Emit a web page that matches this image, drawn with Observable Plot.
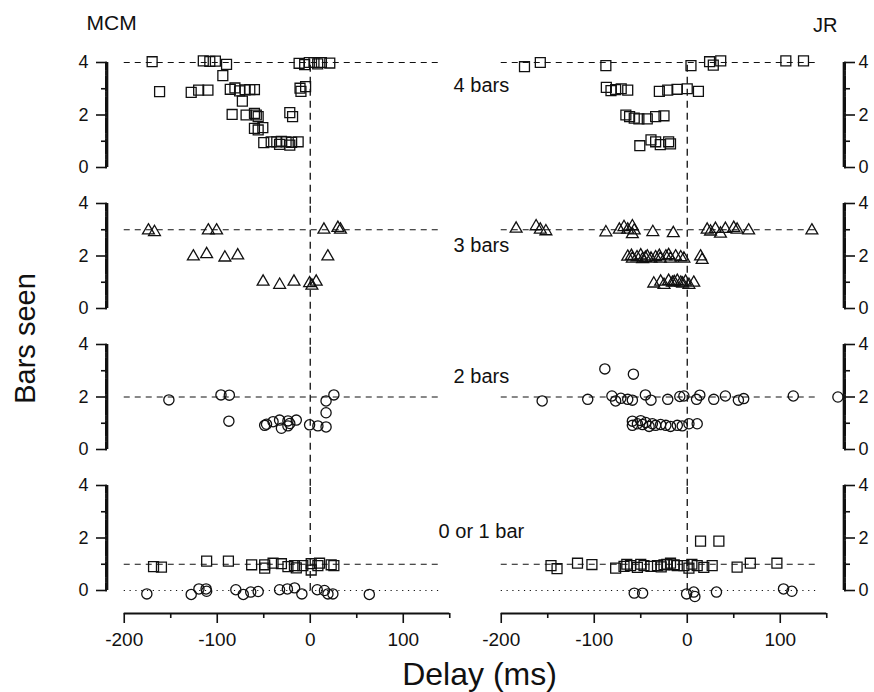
<!DOCTYPE html>
<html><head><meta charset="utf-8">
<script src="https://cdn.jsdelivr.net/npm/d3@7"></script>
<script src="https://cdn.jsdelivr.net/npm/@observablehq/plot@0.6"></script>
<style>body{margin:0;background:#fff;} #chart svg{display:block;}</style>
</head><body><div id="chart"></div>
<script>
const subjects = ["MCM", "JR"];
const conditions = ["4 bars", "3 bars", "2 bars", "0 or 1 bar"];
const refLevels = [4, 3, 2, 1];
const xDomain = [-218, 168];
const yDomain = [0, 4];
const xTicksMajor = [-200, -100, 0, 100];
const xTicksMinor = [-150, -50, 50, 150];
const yTicksMajor = [0, 2, 4];
const yTicksMinor = [1, 3];

// [delay (ms), bars seen]
const mcm4 = [[-170,4.03],[-115,4.06],[-108,4.04],[-102,4.05],[-90,3.93],[-94,3.5],
  [-12,3.97],[-6,3.92],[-1,4.0],[4,4.0],[8,3.95],[12,4.0],[21,3.98],
  [-162,2.89],[-128,2.86],[-120,2.95],[-110,2.95],[-86,2.98],[-81,3.03],[-76,2.92],[-70,2.96],[-65,2.97],[-60,2.97],[-73,2.53],[-11,3.02],[-10,2.9],[-5,3.08],
  [-84,2.02],[-69,2.0],[-60,2.06],[-58,2.0],[-56,1.94],[-22,2.09],[-19,1.94],
  [-60,1.49],[-56,1.43],[-51,1.52],
  [-50,0.95],[-42,0.98],[-36,0.98],[-31,1.0],[-26,0.98],[-20,0.96],[-13,0.98],[-33,0.88],[-22,0.85]];
const jr4 = [[-175,3.84],[-158,4.0],[-87.5,3.88],[4,3.88],[24,4.03],[28,3.9],[36,4.06],[106,4.06],[125,4.06],
  [-87,3.05],[-82,2.93],[-77,2.97],[-71,3.0],[-64,2.95],[-30,2.9],[-21,2.95],[-11,2.98],[0,3.0],[12,2.9],
  [-66,2.0],[-62,1.94],[-57,1.88],[-52,1.85],[-43,1.85],[-34,1.94],[-25,1.97],
  [-51,0.83],[-39,1.05],[-34,0.98],[-29,0.87],[-20,0.98],[-18,0.9]];
const mcm3 = [[-174,2.97],[-167.5,2.91],[-109.6,2.97],[-100.7,2.97],[14.7,3.0],[29.7,3.07],[32.5,3.0],
  [-125.7,1.98],[-111.4,2.07],[-91.8,1.94],[-78,2.02],[18.9,1.98],
  [-50.7,1.02],[-32.9,0.9],[-17.5,1.02],[-0.7,0.96],[1.8,0.87],[6.4,1.02]];
const jr3 = [[-184,3.04],[-162.5,3.13],[-158,3.0],[-152,2.94],[-87.5,2.9],[-73,3.0],[-68,3.1],[-64,3.0],[-59,3.13],[-57,2.97],[-59,2.83],[-37,2.91],[-15,2.87],
  [21.4,3.0],[25,2.93],[30.3,3.03],[35.7,2.85],[41,3.03],[50,3.07],[53.6,3.0],[66,2.97],[134,2.97],
  [-64,1.97],[-60,2.0],[-59,1.9],[-54,1.95],[-50,2.02],[-48,1.88],[-45,1.93],[-43,1.98],[-39,1.9],[-34,1.95],[-30,2.0],[-29,1.9],[-23,1.98],[-20,2.03],[-18,1.9],[-12.5,1.98],[-7,1.95],[-3.6,1.9],[14.3,1.98],[16,1.85],
  [-36,0.95],[-28.6,1.02],[-25,0.9],[-20,1.05],[-16,0.98],[-14,1.0],[-10.7,1.05],[-7,0.98],[-5,0.95],[-1.8,1.02],[1.8,0.9],[7,0.98]];
const mcm2 = [[-152,1.89],[-96,2.08],[-87,2.07],[17,1.85],[25.4,2.08],[17,1.4],
  [-87.5,1.08],[-49,0.92],[-47,0.96],[-40,1.06],[-33,1.12],[-31,0.81],[-24,1.09],[-24,0.9],[-22,0.99],[-15,1.12],[-0.7,0.94],[8.2,0.9],[17,0.86]];
const jr2 = [[-88.6,3.07],[-57.9,2.87],
  [-156,1.85],[-107,1.91],[-81,2.04],[-77,1.85],[-71.4,1.95],[-64,1.91],[-59,1.88],[-45,2.08],[-39,1.88],[-21,1.91],[-8,2.02],[-3.6,2.04],[10,1.91],[13.5,2.07],[28.5,1.91],[41,2.04],[55,1.88],[60.7,1.94],[114,2.04],[162,2.0],
  [-59,0.92],[-59,1.08],[-53.6,0.98],[-50,1.1],[-48,0.95],[-44.6,1.03],[-41,0.88],[-37.5,0.98],[-34,0.92],[-28.6,0.95],[-23,0.92],[-18,0.88],[-10.7,0.92],[-5.4,0.9],[1.8,0.98],[10.7,0.98]];
const mcm1sq = [[-168.5,0.91],[-160,0.89],[-111.4,1.12],[-88,1.12],[-63,0.98],[-49,0.98],[-49,0.85],[-40,1.04],[-31,1.02],[-24,0.91],[-17,0.95],[-15,0.86],[-8,0.95],[1,1.02],[1,0.78],[8.2,0.95],[10,1.04],[22.5,0.98],[25.4,0.95]];
const mcm1ci = [[-175.7,-0.13],[-128,-0.15],[-119.7,0.06],[-112,0.06],[-111.4,-0.03],[-80,0.03],[-72,-0.15],[-64,-0.06],[-56,-0.04],[-33,0.03],[-24.6,0.06],[-16.8,0.1],[-9,-0.13],[7.5,0.03],[15.3,0],[19,-0.13],[24.3,-0.13],[63.5,-0.15]];
const jr1sq = [[-146.5,0.95],[-140,0.83],[-118,1.04],[-102.5,0.99],[-77,0.85],[-68,0.92],[-65,1.0],[-61,0.95],[-53.6,0.88],[-50,1.0],[-46.5,0.95],[-39,0.92],[-32,0.95],[-28,0.9],[-25,0.98],[-22,1.0],[-18,1.04],[-14,0.98],[-10.7,0.95],[-3.6,0.95],[1.8,0.85],[5,1.0],[10.7,0.95],[17.8,0.88],[26.8,0.95],[14.3,1.88],[34,1.88],[53.6,0.89],[67.8,1.04],[96.4,1.04]];
const jr1ci = [[-57,-0.1],[-48,-0.1],[-0.7,-0.13],[7,-0.06],[8.2,-0.23],[31.4,-0.06],[103.5,0.06],[112.5,-0.03]];

const series = [
  {subject: "MCM", cond: "4 bars", shape: "square", values: mcm4},
  {subject: "JR", cond: "4 bars", shape: "square", values: jr4},
  {subject: "MCM", cond: "3 bars", shape: "triangle", values: mcm3},
  {subject: "JR", cond: "3 bars", shape: "triangle", values: jr3},
  {subject: "MCM", cond: "2 bars", shape: "circle", values: mcm2},
  {subject: "JR", cond: "2 bars", shape: "circle", values: jr2},
  {subject: "MCM", cond: "0 or 1 bar", shape: "square", values: mcm1sq},
  {subject: "MCM", cond: "0 or 1 bar", shape: "circle", values: mcm1ci},
  {subject: "JR", cond: "0 or 1 bar", shape: "square", values: jr1sq},
  {subject: "JR", cond: "0 or 1 bar", shape: "circle", values: jr1ci}
];
const points = series.flatMap(s => s.values.map(([x, y]) => ({subject: s.subject, cond: s.cond, shape: s.shape, x, y})));
const refRows = conditions.map((c, i) => ({cond: c, y: refLevels[i]}));
const condLabelY = [3.12, 2.41, 2.77, 2.23];
// closely spaced short ticks along the y domain, which merge into the axis spine
const spineTicks = d3.range(yDomain[0], yDomain[1] + 1e-6, 0.04);
// spine segments, anchored on the outermost x ticks and nudged out to the column edge
const spines = conditions.flatMap(c => [
  {subject: subjects[0], cond: c, x: xTicksMajor[0], side: -1},
  {subject: subjects[1], cond: c, x: xTicksMinor[xTicksMinor.length - 1], side: 1}
]);

const ink = "#111";
const fmt = d => String(d);
const blank = () => "";
const dotOpts = (shape, r) => ({x: "x", y: "y", fx: "subject", fy: "cond", symbol: shape, r, stroke: ink, strokeWidth: 1.3, fill: "none"});

const chart = Plot.plot({
  width: 874, height: 692,
  marginLeft: 106, marginRight: 31, marginTop: 61, marginBottom: 102,
  style: {fontFamily: "'Liberation Sans', Arial, Helvetica, sans-serif", background: "#fff", color: ink},
  x: {domain: xDomain, axis: null},
  y: {domain: yDomain, axis: null},
  fx: {domain: subjects, paddingInner: 0.048, paddingOuter: 0, axis: null},
  fy: {domain: conditions, paddingInner: 0.2588, paddingOuter: 0, axis: null},
  marks: [
    Plot.ruleY(refRows, {fy: "cond", y: "y", x1: -200, x2: 140, stroke: ink, strokeWidth: 1, strokeDasharray: "6,5"}),
    Plot.ruleY([{cond: "0 or 1 bar", y: 0}], {fy: "cond", y: "y", x1: -200, x2: 143, stroke: ink, strokeWidth: 1, strokeDasharray: "1.2,4.6"}),
    Plot.ruleX(conditions, {fy: d => d, x: 0, y1: (d, i) => i === conditions.length - 1 ? 0 : -1.4, y2: 4, stroke: ink, strokeWidth: 1.3, strokeDasharray: "7,5"}),
    Plot.dot(points.filter(d => d.shape === "square"), dotOpts("square", 5.6)),
    Plot.dot(points.filter(d => d.shape === "triangle"), dotOpts("triangle", 4.4)),
    Plot.dot(points.filter(d => d.shape === "circle"), dotOpts("circle", 5.1)),
    Plot.ruleX(spines.filter(d => d.side < 0), {fx: "subject", fy: "cond", x: "x", y1: () => yDomain[0], y2: () => yDomain[1], dx: -16.8, stroke: ink, strokeWidth: 1.8}),
    Plot.ruleX(spines.filter(d => d.side > 0), {fx: "subject", fy: "cond", x: "x", y1: () => yDomain[0], y2: () => yDomain[1], dx: 16.8, stroke: ink, strokeWidth: 1.8}),
    Plot.axisY({anchor: "left", ticks: spineTicks, tickSize: 2, tickFormat: blank, strokeWidth: 1.5, label: null, facetAnchor: "left"}),
    Plot.axisY({anchor: "right", ticks: spineTicks, tickSize: 2, tickFormat: blank, strokeWidth: 1.5, label: null, facetAnchor: "right"}),
    Plot.axisY({anchor: "left", ticks: yTicksMajor, tickSize: 11, tickPadding: 8, fontSize: 18, strokeWidth: 1.6, tickFormat: fmt, label: null, facetAnchor: "left"}),
    Plot.axisY({anchor: "left", ticks: yTicksMinor, tickSize: 6, tickFormat: blank, strokeWidth: 1.6, label: null, facetAnchor: "left"}),
    Plot.axisY({anchor: "right", ticks: yTicksMajor, tickSize: 11, tickPadding: 4, fontSize: 18, strokeWidth: 1.6, tickFormat: fmt, label: null, facetAnchor: "right"}),
    Plot.axisY({anchor: "right", ticks: yTicksMinor, tickSize: 6, tickFormat: blank, strokeWidth: 1.6, label: null, facetAnchor: "right"}),
    Plot.ruleY([0], {x1: xTicksMajor[0], x2: xTicksMinor[xTicksMinor.length - 1], dy: 23, stroke: ink, strokeWidth: 1.8, facetAnchor: "bottom"}),
    Plot.axisX({ticks: xTicksMajor, tickSize: 10, tickPadding: 9, dy: 23, fontSize: 19, strokeWidth: 1.6, tickFormat: fmt, label: null, facetAnchor: "bottom"}),
    Plot.axisX({ticks: xTicksMinor, tickSize: 5, dy: 23, tickFormat: blank, strokeWidth: 1.6, label: null, facetAnchor: "bottom"}),
    Plot.text(conditions, {fx: () => subjects[0], fy: d => d, x: 184, y: (d, i) => condLabelY[i], text: d => d, fontSize: 20, fill: ink}),
    Plot.text([subjects[0]], {fx: d => d, fy: () => conditions[0], frameAnchor: "top-left", textAnchor: "start", lineAnchor: "middle", dx: -21, dy: -39, fontSize: 21, fill: ink}),
    Plot.text([subjects[1]], {fx: d => d, fy: () => conditions[0], frameAnchor: "top-right", textAnchor: "end", lineAnchor: "middle", dx: -6, dy: -37, fontSize: 20, fill: ink}),
    Plot.text(["Bars seen"], {fx: () => subjects[0], fy: () => conditions[1], frameAnchor: "bottom-left", textAnchor: "middle", lineAnchor: "middle", rotate: -90, dx: -82, dy: 30, fontSize: 29, fill: ink}),
    Plot.text(["Delay (ms)"], {fx: () => subjects[0], fy: () => conditions[3], frameAnchor: "bottom-right", textAnchor: "middle", lineAnchor: "middle", dx: 13, dy: 84, fontSize: 32, fill: ink})
  ]
});
document.getElementById("chart").appendChild(chart);
</script>
</body></html>
